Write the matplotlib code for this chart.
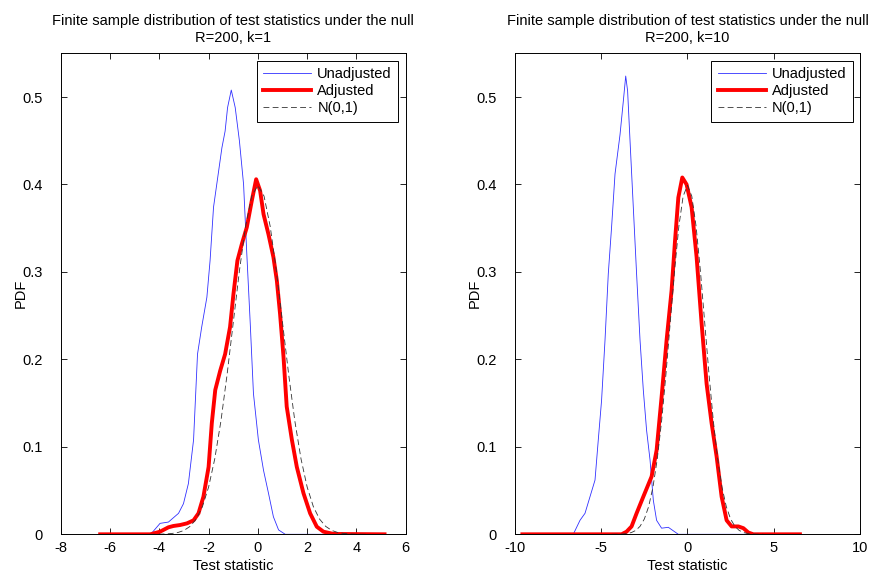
import numpy as np
import matplotlib
matplotlib.use('Agg')
import matplotlib.pyplot as plt

plt.rcParams['font.family'] = ['Liberation Sans', 'DejaVu Sans']

# left panel: R=200, k=1
unadj1_x = [-6.40, -4.35, -3.97, -3.63, -3.22, -3.02, -2.82, -2.61, -2.45, -2.28, -2.07,
            -1.94, -1.80, -1.67, -1.46, -1.33, -1.23, -1.08, -0.92, -0.75, -0.58, -0.45,
            -0.31, -0.18, 0.02, 0.23, 0.43, 0.63, 0.84, 1.11, 5.14]
unadj1_y = [0.0, 0.0, 0.0125, 0.014, 0.024, 0.035, 0.058, 0.108, 0.206, 0.237, 0.271,
            0.313, 0.374, 0.400, 0.442, 0.461, 0.488, 0.508, 0.488, 0.450, 0.400, 0.321,
            0.241, 0.161, 0.108, 0.073, 0.047, 0.020, 0.005, 0.0, 0.0]
adj1_x = [-6.40, -4.37, -3.97, -3.63, -3.43, -3.16, -2.88, -2.61, -2.41, -2.21, -2.00,
          -1.87, -1.73, -1.53, -1.33, -1.13, -0.99, -0.83, -0.65, -0.45, -0.25, -0.07,
          0.09, 0.23, 0.43, 0.63, 0.77, 0.90, 1.04, 1.17, 1.38, 1.58, 1.85, 2.12,
          2.39, 2.66, 3.07, 5.14]
adj1_y = [0.0, 0.0, 0.003, 0.008, 0.0095, 0.0106, 0.0125, 0.016, 0.024, 0.043, 0.077,
          0.127, 0.165, 0.187, 0.206, 0.237, 0.275, 0.313, 0.332, 0.351, 0.381, 0.406,
          0.393, 0.366, 0.343, 0.317, 0.290, 0.252, 0.203, 0.146, 0.108, 0.077, 0.047, 0.024,
          0.0087, 0.003, 0.0004, 0.0]

# right panel: R=200, k=10
unadj2_x = [-9.57, -6.62, -6.23, -5.94, -5.65, -5.36, -5.17, -4.98, -4.78, -4.59, -4.40,
            -4.20, -3.91, -3.72, -3.58, -3.47, -3.33, -3.14, -2.95, -2.75, -2.56, -2.37,
            -2.17, -1.98, -1.79, -1.50, -1.11, -0.82, -0.53, 6.52]
unadj2_y = [0.0, 0.0, 0.016, 0.024, 0.043, 0.062, 0.108, 0.153, 0.222, 0.298, 0.351,
            0.412, 0.457, 0.495, 0.524, 0.507, 0.450, 0.374, 0.298, 0.222, 0.165, 0.119,
            0.085, 0.039, 0.016, 0.007, 0.008, 0.004, 0.0, 0.0]
adj2_x = [-9.57, -3.82, -3.53, -3.24, -2.95, -2.56, -2.08, -1.79, -1.50, -1.21, -0.92,
          -0.72, -0.53, -0.30, -0.05, 0.24, 0.53, 0.82, 1.11, 1.40, 1.69, 1.98, 2.27,
          2.56, 2.95, 3.24, 3.53, 3.82, 6.52]
adj2_y = [0.0, 0.0, 0.003, 0.009, 0.024, 0.043, 0.066, 0.096, 0.157, 0.222, 0.279,
          0.336, 0.385, 0.408, 0.400, 0.374, 0.317, 0.241, 0.172, 0.127, 0.089, 0.043, 0.016,
          0.009, 0.009, 0.007, 0.002, 0.0, 0.0]

# standard normal reference
norm_x = [-4.4, -4.0, -3.75, -3.5, -3.25, -3.0, -2.75, -2.5, -2.25, -2.0, -1.75, -1.5,
          -1.25, -1.0, -0.75, -0.5, -0.25, 0.0, 0.25, 0.5, 0.75, 1.0, 1.25, 1.5, 1.75,
          2.0, 2.25, 2.5, 2.75, 3.0, 3.25, 3.5, 3.75, 4.0, 4.4]
norm_y = [0.0, 0.0001, 0.0004, 0.0009, 0.002, 0.0044, 0.0091, 0.0175, 0.0317, 0.054,
          0.0863, 0.1295, 0.1826, 0.242, 0.3011, 0.3521, 0.3867, 0.3989, 0.3867, 0.3521,
          0.3011, 0.242, 0.1826, 0.1295, 0.0863, 0.054, 0.0317, 0.0175, 0.0091, 0.0044,
          0.002, 0.0009, 0.0004, 0.0001, 0.0]

panels = [
    dict(title='Finite sample distribution of test statistics under the null\nR=200, k=1',
         ux=unadj1_x, uy=unadj1_y, ax_=adj1_x, ay=adj1_y,
         xlim=(-8, 6), xticks=[-8, -6, -4, -2, 0, 2, 4, 6]),
    dict(title='Finite sample distribution of test statistics under the null\nR=200, k=10',
         ux=unadj2_x, uy=unadj2_y, ax_=adj2_x, ay=adj2_y,
         xlim=(-10, 10), xticks=[-10, -5, 0, 5, 10]),
]
yticks = [0, 0.1, 0.2, 0.3, 0.4, 0.5]
ytick_labels = ['0', '0.1', '0.2', '0.3', '0.4', '0.5']

fig = plt.figure(figsize=(8.69, 5.77), dpi=100)
lefts = [0.0699, 0.5926]

for left, p in zip(lefts, panels):
    ax = fig.add_axes([left, 0.074, 0.397, 0.8336])
    ax.plot(p['ux'], p['uy'], color='#3030ff', lw=0.6, label='Unadjusted')
    ax.plot(p['ax_'], p['ay'], color='#ff0000', lw=2.8, label='Adjusted',
            solid_joinstyle='round')
    ax.plot(norm_x, norm_y, color='#333333', lw=0.6, dashes=(7, 4), label='N(0,1)')
    ax.set_xlim(*p['xlim'])
    ax.set_ylim(0, 0.55)
    ax.set_xticks(p['xticks'])
    ax.set_xticklabels([str(t) for t in p['xticks']])
    ax.set_yticks(yticks)
    ax.set_yticklabels(ytick_labels)
    ax.tick_params(direction='in', top=True, right=True, labelsize=10.5, length=4,
                   width=0.6, pad=5)
    ax.tick_params(axis='y', pad=13)
    for s in ax.spines.values():
        s.set_linewidth(0.7)
    ax.set_title(p['title'], fontsize=10.5, pad=8, linespacing=1.3)
    ax.set_xlabel('Test statistic', fontsize=10.5, labelpad=3)
    ax.set_ylabel('PDF', fontsize=10.5, labelpad=-4)
    leg = ax.legend(loc='upper right', fontsize=10.5, handlelength=3.3,
                    borderaxespad=0.5, fancybox=False, framealpha=1,
                    borderpad=0.45, labelspacing=0.2, handletextpad=0.4)
    leg.get_frame().set_edgecolor('black')
    leg.get_frame().set_linewidth(0.7)

fig.savefig('out.png', dpi=100)
